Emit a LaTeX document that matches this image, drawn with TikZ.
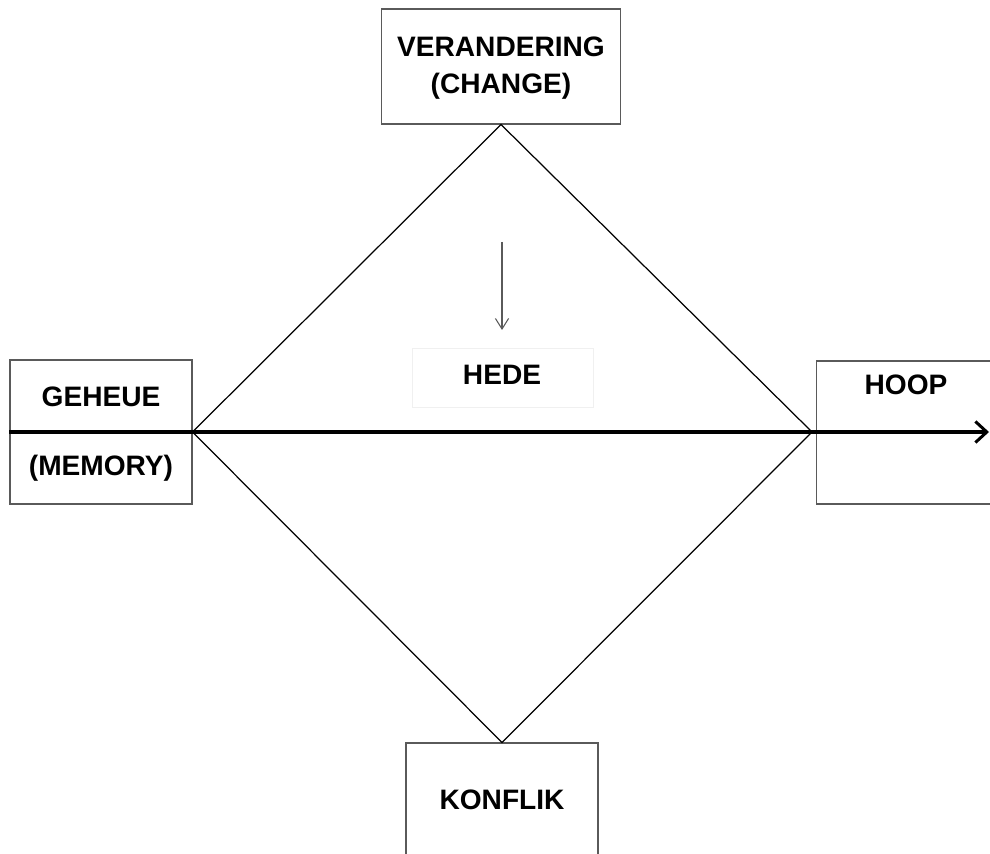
\documentclass[tikz,border=0pt]{standalone}
\usepackage{fontspec}
\setmainfont{Liberation Sans}
\usepackage{xcolor}
\usetikzlibrary{arrows.meta}
\definecolor{boxgray}{RGB}{90, 90, 90}
\definecolor{hedegray}{RGB}{240, 240, 240}

\begin{document}
\begin{tikzpicture}[
    x=0.02cm, y=-0.02cm,
    frame/.style={rectangle, draw=boxgray, line width=0.6pt, inner sep=0pt},
    label/.style={font=\fontsize{16}{21}\selectfont\bfseries, align=center, inner sep=0pt},
    timeline/.style={-{Straight Barb[length=6.5pt, width=12pt, line width=1.7pt]}, line width=1.9pt},
    flow/.style={-{Straight Barb[length=6pt, width=7.5pt, line width=0.6pt]}, color=boxgray, line width=0.6pt}
]

% page area
\clip (0,0) rectangle (990,854);

% Boxes
\node[frame, minimum width=4.78cm, minimum height=2.3cm] (verander) at (501,66.5) {};
\node[frame, minimum width=3.64cm, minimum height=2.88cm] (geheue) at (101,432) {};
\node[frame, minimum width=3.68cm, minimum height=2.86cm] (hoop) at (908,432.5) {};
\node[frame, minimum width=3.84cm, minimum height=3.14cm] (konflik) at (502,821.5) {};
\node[rectangle, draw=hedegray, line width=0.4pt, minimum width=3.62cm, minimum height=1.18cm] (hedebox) at (502.5,377.5) {};

% Texts
\node[label] (verandertext) at (501,68) {VERANDERING\\(CHANGE)};
\node[label] (geheuetext) at (101,397) {GEHEUE};
\node[label] (memorytext) at (101,468) {(MEMORY)};
\node[label] (hooptext) at (906,385) {HOOP};
\node[label] (konfliktext) at (502,800) {KONFLIK};
\node[label] (hedetext) at (502,375) {HEDE};

% Diamond
\coordinate (rightcorner) at (812,432);
\draw[line width=0.7pt, line join=miter] (verander.south) -- (geheue.east) -- (konflik.north) -- (rightcorner) -- cycle;

% Time line
\coordinate (lineend) at (989,432);
\draw[timeline] (geheue.west) -- (lineend);

% Change flows into the present
\coordinate (flowstart) at (502,242);
\coordinate (flowend) at (502,330);
\draw[flow] (flowstart) -- (flowend);

\end{tikzpicture}
\end{document}
